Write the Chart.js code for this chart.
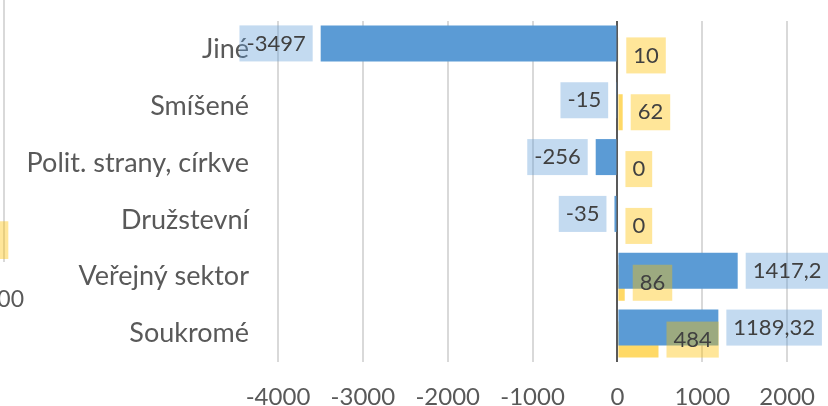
<!DOCTYPE html>
<html><head><meta charset="utf-8">
<script src="https://cdn.jsdelivr.net/npm/chart.js@4/dist/chart.umd.min.js"></script>
<style>
html,body{margin:0;padding:0;width:828px;height:406px;overflow:hidden;background:#fff;position:relative}
#side{position:absolute;left:-196px;top:0}
#main{position:absolute;left:0;top:0}
</style></head><body>
<canvas id="side" width="220" height="406"></canvas>
<canvas id="main" width="920" height="406"></canvas>
<script>
// ---- data ----
const categories = ['Jiné', 'Smíšené', 'Polit. strany, církve', 'Družstevní', 'Veřejný sektor', 'Soukromé'];
const blueValues = [-3497, -15, -256, -35, 1417.2, 1189.32];
const yellowValues = [10, 62, 0, 0, 86, 484];
const xTicks = [-4000, -3000, -2000, -1000, 0, 1000, 2000, 3000];
// fragment of the neighbouring chart at the left edge
const sideCategories = ['', '', '', '', '', ''];
const sideValues = [null, null, null, null, null, 510];
const sideTicks = [0, 500];

const FONT = 'Lato, "Open Sans", sans-serif';
const PAD = 7, GAP = 8;

function noPad(s) { s.paddingTop = 0; s.paddingBottom = 0; s.paddingLeft = 0; s.paddingRight = 0; }

const labelPlugin = {
  id: 'boxLabels',
  afterDatasetsDraw(chart) {
    const ctx = chart.ctx;
    ctx.save();
    ctx.font = '22px ' + FONT;
    ctx.textBaseline = 'middle';
    ctx.textAlign = 'left';
    chart.data.datasets.forEach((ds, di) => {
      const meta = chart.getDatasetMeta(di);
      meta.data.forEach((bar, i) => {
        const v = ds.data[i];
        const txt = String(v).replace('.', ',');
        const w = ctx.measureText(txt).width + 2 * PAD;
        const h = bar.height;
        const top = bar.y - h / 2;
        const x0 = v < 0 ? bar.x - GAP - w : bar.x + GAP;
        ctx.fillStyle = ds.labelBox;
        ctx.fillRect(x0, top, w, h);
        ctx.fillStyle = '#404040';
        ctx.fillText(txt, x0 + PAD, bar.y);
      });
    });
    ctx.restore();
  }
};

new Chart(document.getElementById('main'), {
  type: 'bar',
  data: {
    labels: categories,
    datasets: [
      { data: blueValues, backgroundColor: '#5B9BD5', labelBox: 'rgba(91,155,213,0.37)',
        categoryPercentage: 0.4225, barPercentage: 3 },
      { data: yellowValues, backgroundColor: '#FFD966', labelBox: 'rgba(255,192,0,0.4)',
        categoryPercentage: 0.4225, barPercentage: 3 }
    ]
  },
  options: {
    indexAxis: 'y',
    responsive: false,
    animation: false,
    devicePixelRatio: 1,
    layout: { padding: { top: 21, right: 48, left: 0, bottom: 0 } },
    plugins: { legend: { display: false }, tooltip: { enabled: false } },
    scales: {
      x: {
        min: xTicks[0], max: xTicks[xTicks.length - 1],
        afterBuildTicks: s => { s.ticks = xTicks.map(v => ({ value: v })); },
        afterFit: s => { s.height = 44; noPad(s); },
        grid: {
          drawTicks: false, lineWidth: 2,
          color: c => (c.tick && c.tick.value === 0) ? '#595959' : '#d9d9d9'
        },
        border: { display: false },
        ticks: { color: '#595959', font: { family: FONT, size: 24 }, padding: 21,
                 callback: v => String(v), maxRotation: 0 }
      },
      y: {
        afterFit: s => { s.width = 278; noPad(s); },
        grid: { display: false, drawTicks: false },
        border: { display: false },
        ticks: { color: '#595959', font: { family: FONT, size: 27 }, padding: 29 }
      }
    }
  },
  plugins: [labelPlugin]
});

new Chart(document.getElementById('side'), {
  type: 'bar',
  data: {
    labels: sideCategories,
    datasets: [{ data: sideValues, backgroundColor: 'rgba(255,192,0,0.4)', clip: false,
                 barThickness: 37 }]
  },
  options: {
    indexAxis: 'y',
    responsive: false,
    animation: false,
    devicePixelRatio: 1,
    layout: { padding: { top: 0, right: 20, left: 0, bottom: 0 } },
    plugins: { legend: { display: false }, tooltip: { enabled: false } },
    scales: {
      x: {
        min: 0, max: 500,
        afterBuildTicks: s => { s.ticks = sideTicks.map(v => ({ value: v })); },
        afterFit: s => { s.height = 144; noPad(s); },
        grid: { drawTicks: false, lineWidth: 2, color: '#d9d9d9' },
        border: { display: false },
        ticks: { color: '#595959', font: { family: FONT, size: 23 }, padding: 24,
                 callback: v => String(v), maxRotation: 0 }
      },
      y: { display: false, afterFit: noPad }
    }
  }
});
</script>
</body></html>
